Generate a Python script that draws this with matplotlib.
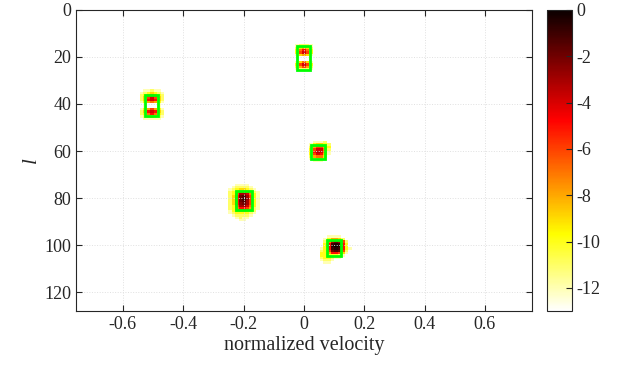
import numpy as np
import matplotlib
matplotlib.use('Agg')
import matplotlib.pyplot as plt

plt.rcParams['font.family'] = ['Liberation Serif', 'DejaVu Serif']
plt.rcParams['axes.unicode_minus'] = False

# range-velocity map, dB (values under -13 show as white)
n_vel = 129
n_rng = 128
floor_db = -30.0

# each blob: centre velocity, first range row, patch of dB values
blob_v = [0.0, -0.5, -0.2, 0.05, 0.1]
blob_l = [15, 34, 74, 56, 96]

patch_a = [
    [-12, -11, -11, -11, -12],
    [-11, -9, -8, -9, -11],
    [-10, -7, -5, -7, -10],
    [-10, -6, -4, -6, -10],
    [-12, -9, -8, -9, -12],
    [-30, -14, -14, -14, -30],
    [-30, -14, -14, -14, -30],
    [-12, -9, -7, -9, -12],
    [-10, -6, -4, -6, -10],
    [-11, -8, -6, -8, -11],
    [-12, -11, -11, -11, -12],
]
patch_b = [
    [-30, -12, -12, -11, -12, -12, -30],
    [-12, -11, -10, -9, -10, -11, -12],
    [-11, -10, -8, -7, -8, -10, -11],
    [-11, -9, -6, -4, -6, -9, -11],
    [-11, -9, -5, -4, -5, -9, -11],
    [-12, -10, -8, -7, -8, -10, -12],
    [-30, -12, -14, -14, -14, -12, -30],
    [-30, -12, -14, -14, -14, -12, -30],
    [-12, -10, -8, -6, -8, -10, -12],
    [-11, -9, -5, -4, -5, -9, -11],
    [-11, -10, -7, -5, -7, -10, -11],
    [-12, -11, -10, -9, -10, -11, -12],
    [-30, -12, -12, -12, -12, -12, -30],
]
patch_c = [
    [-30, -30, -12, -12, -12, -12, -30, -30, -30],
    [-30, -12, -11, -11, -11, -11, -12, -30, -30],
    [-12, -11, -10, -9, -9, -10, -11, -12, -30],
    [-11, -10, -8, -5, -5, -6, -9, -11, -12],
    [-11, -10, -6, -3, -3, -4, -7, -10, -12],
    [-11, -9, -5, -2, -1.5, -3, -6, -10, -12],
    [-11, -9, -5, -2, -1, -2.5, -6, -10, -12],
    [-11, -9, -5, -2, -1.5, -3, -6, -10, -12],
    [-11, -9, -5, -2.5, -2, -3, -6, -10, -12],
    [-11, -10, -6, -3, -3, -4, -7, -10, -12],
    [-11, -10, -7, -5, -5, -6, -8, -11, -12],
    [-12, -10, -9, -8, -8, -9, -10, -11, -30],
    [-12, -11, -10, -10, -10, -10, -11, -12, -30],
    [-30, -12, -11, -11, -11, -11, -12, -30, -30],
    [-30, -30, -12, -11, -12, -12, -30, -30, -30],
    [-30, -30, -30, -12, -12, -30, -30, -30, -30],
]
patch_d = [
    [-30, -30, -12, -12, -12, -11, -30],
    [-30, -12, -10, -9, -9, -10, -11],
    [-30, -11, -8, -6, -6, -8, -10],
    [-30, -10, -6, -4, -4, -7, -11],
    [-30, -10, -5, -3.5, -4, -7, -12],
    [-30, -10, -6, -4, -5, -8, -12],
    [-30, -11, -8, -7, -7, -9, -30],
    [-30, -12, -11, -10, -10, -11, -30],
    [-30, -30, -12, -12, -12, -30, -30],
]
patch_e = [
    [-30, -30, -12, -12, -12, -12, -30, -30, -30],
    [-30, -12, -10, -8, -8, -9, -11, -30, -30],
    [-30, -11, -7, -3, -2, -3, -6, -11, -30],
    [-30, -10, -5, -1, -0.5, -1, -5, -10, -30],
    [-30, -10, -5, -0.5, 0, -0.5, -5, -10, -30],
    [-12, -10, -5, -1, -0.5, -1, -5, -10, -12],
    [-11, -10, -6, -2, -1.5, -2, -6, -11, -30],
    [-10, -10, -8, -5, -5, -6, -9, -12, -30],
    [-10, -10, -10, -10, -10, -11, -12, -30, -30],
    [-11, -10, -10, -11, -12, -12, -30, -30, -30],
    [-12, -11, -11, -12, -30, -30, -30, -30, -30],
    [-30, -12, -12, -30, -30, -30, -30, -30, -30],
]
patches = [patch_a, patch_b, patch_c, patch_d, patch_e]

# detection boxes (green)
box_v0 = [-0.022, -0.527, -0.225, 0.025, 0.077]
box_v1 = [0.020, -0.482, -0.172, 0.070, 0.123]
box_l0 = [15.5, 36.0, 77.0, 57.5, 97.8]
box_l1 = [25.5, 45.0, 85.0, 63.5, 104.5]

vel = np.linspace(-0.75, 0.75, n_vel)
dv = vel[1] - vel[0]
rd = np.full((n_rng, n_vel), floor_db)
for v, l0, p in zip(blob_v, blob_l, patches):
    p = np.array(p, dtype=float)
    c0 = int(round((v - vel[0]) / dv)) - p.shape[1] // 2
    rd[l0:l0 + p.shape[0], c0:c0 + p.shape[1]] = p

fig = plt.figure(figsize=(6.17, 3.78), dpi=100)
ax = fig.add_axes([0.123, 0.177, 0.739, 0.797])
cax = fig.add_axes([0.887, 0.177, 0.040, 0.797])

cmap = plt.get_cmap('hot_r').copy()
cmap.set_under('white')
im = ax.imshow(rd, cmap=cmap, vmin=-13, vmax=0, aspect='auto',
               interpolation='nearest', origin='upper',
               extent=[vel[0] - dv / 2, vel[-1] + dv / 2, n_rng, 0])

for v0, v1, l0, l1 in zip(box_v0, box_v1, box_l0, box_l1):
    ax.add_patch(plt.Rectangle((v0, l0), v1 - v0, l1 - l0, fill=False,
                               edgecolor='#00ff00', lw=2, zorder=3))

ax.set_xlim(vel[0] - dv / 2, vel[-1] + dv / 2)
ax.set_ylim(128, 0)
ax.set_xticks(np.arange(-0.6, 0.61, 0.2))
ax.set_xticklabels(['-0.6', '-0.4', '-0.2', '0', '0.2', '0.4', '0.6'])
ax.set_yticks(np.arange(0, 121, 20))
ax.grid(True, color='#e0e0e0', linestyle=':', linewidth=0.7, zorder=2)
ax.set_axisbelow(False)
ax.tick_params(direction='in', top=True, right=True, labelsize=13,
               color='#262626', labelcolor='#262626', length=4)
for s in ax.spines.values():
    s.set_color('#262626')
    s.set_linewidth(0.8)
    s.set_zorder(5)
ax.set_xlabel('normalized velocity', fontsize=14.5, color='#262626', labelpad=2)
ax.set_ylabel('l', fontsize=15, style='italic', color='#262626', labelpad=2)

cb = fig.colorbar(im, cax=cax, ticks=np.arange(0, -13, -2))
cb.ax.set_yticklabels(['0', '-2', '-4', '-6', '-8', '-10', '-12'])
cb.ax.tick_params(direction='in', labelsize=13, color='#262626',
                  labelcolor='#262626', length=4)
cb.outline.set_edgecolor('#262626')
cb.outline.set_linewidth(0.8)

fig.savefig('out.png', dpi=100)
